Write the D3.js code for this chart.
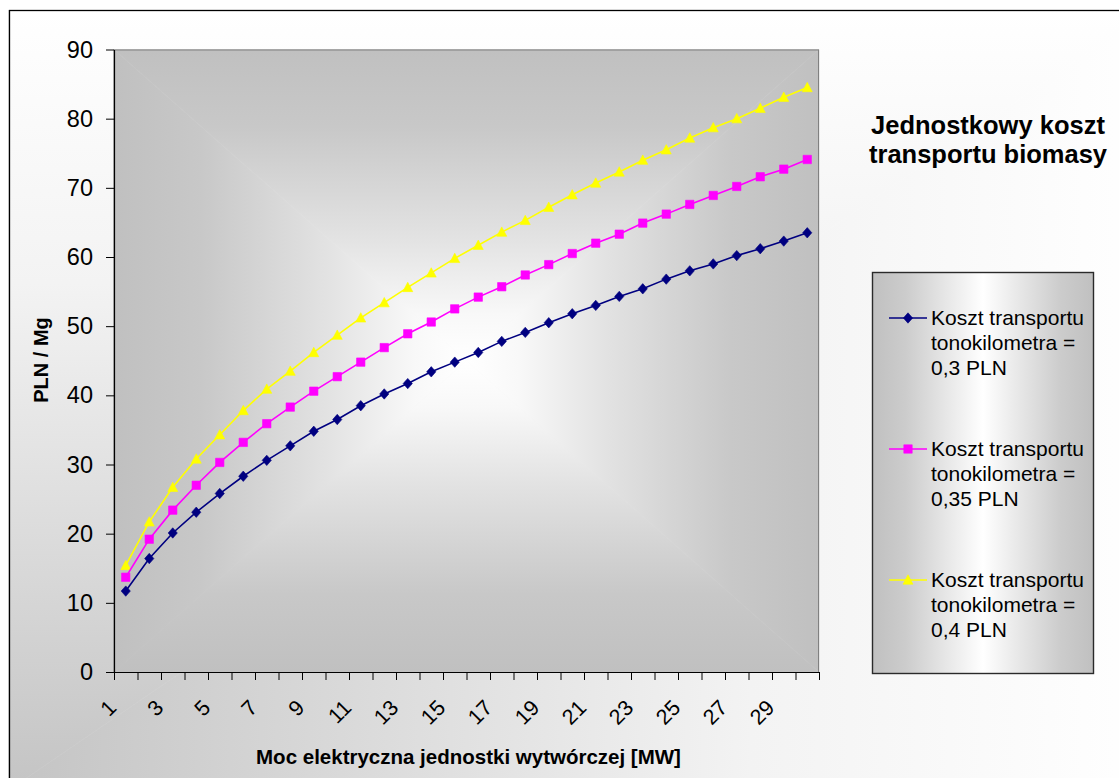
<!DOCTYPE html>
<html>
<head>
<meta charset="utf-8">
<script src="https://cdn.jsdelivr.net/npm/d3@7"></script>
<style>
  html, body { margin: 0; padding: 0; background: #ffffff; }
  svg { display: block; font-family: "Liberation Sans", Arial, sans-serif; }
</style>
</head>
<body>
<svg id="chart" width="1119" height="778"></svg>
<script>
// ---------------- data ----------------
const categories = [1,2,3,4,5,6,7,8,9,10,11,12,13,14,15,16,17,18,19,20,21,22,23,24,25,26,27,28,29,30];
const xTickLabels = ["1","3","5","7","9","11","13","15","17","19","21","23","25","27","29"];
const yTicks = [0,10,20,30,40,50,60,70,80,90];
const cost03 = [11.7,16.4,20.1,23.1,25.8,28.3,30.6,32.7,34.8,36.5,38.5,40.2,41.7,43.4,44.8,46.2,47.8,49.1,50.5,51.8,53.0,54.3,55.4,56.8,58.0,59.0,60.2,61.2,62.3,63.5];
const cost035 = [13.7,19.2,23.4,27.0,30.3,33.2,35.9,38.3,40.6,42.7,44.8,46.9,48.9,50.6,52.5,54.2,55.7,57.4,58.9,60.5,62.0,63.3,64.9,66.2,67.6,68.9,70.2,71.6,72.7,74.1];
const cost04 = [15.4,21.7,26.7,30.8,34.3,37.8,40.9,43.5,46.2,48.7,51.2,53.4,55.6,57.7,59.8,61.7,63.6,65.3,67.2,69.0,70.7,72.3,74.0,75.5,77.2,78.7,80.0,81.5,83.1,84.5];
const seriesNames = [
  ["Koszt transportu", "tonokilometra =", "0,3 PLN"],
  ["Koszt transportu", "tonokilometra =", "0,35 PLN"],
  ["Koszt transportu", "tonokilometra =", "0,4 PLN"]
];
const seriesColors = ["#000080", "#ff00ff", "#ffff00"];
const seriesMarkers = ["diamond", "square", "triangle"];
const chartTitle = ["Jednostkowy koszt", "transportu biomasy"];
const xTitle = "Moc elektryczna jednostki wytwórczej [MW]";
const yTitle = "PLN / Mg";

// ---------------- layout ----------------
const svg = d3.select("#chart");
const defs = svg.append("defs");
const P = { left: 114, right: 819, top: 49.5, bottom: 672 };

function boxGradient(id, x0, y0, x1, y1, cx, cy, stops) {
  const g = svg.append("g");
  const tris = [
    { pts: [[x0,y0],[x1,y0],[cx,cy]], from: [cx,y0] },
    { pts: [[x1,y0],[x1,y1],[cx,cy]], from: [x1,cy] },
    { pts: [[x1,y1],[x0,y1],[cx,cy]], from: [cx,y1] },
    { pts: [[x0,y1],[x0,y0],[cx,cy]], from: [x0,cy] }
  ];
  tris.forEach((t, i) => {
    const gid = id + "_" + i;
    const lg = defs.append("linearGradient").attr("id", gid)
      .attr("gradientUnits", "userSpaceOnUse")
      .attr("x1", t.from[0]).attr("y1", t.from[1]).attr("x2", cx).attr("y2", cy);
    stops.forEach(s => lg.append("stop").attr("offset", s[0]).attr("stop-color", s[1]));
    g.append("path")
      .attr("d", "M" + t.pts.map(p => p.join(",")).join("L") + "Z")
      .attr("fill", "url(#" + gid + ")")
      .attr("stroke", "url(#" + gid + ")")
      .attr("stroke-width", 0.6);
  });
  return g;
}

// chart area background (corner gradient, grey at bottom-left)
boxGradient("ca", 9, 10, 1150, 790, 9, 790,
  [[0, "#ffffff"], [0.35, "#f3f3f3"], [1, "#c4c4c4"]]);
svg.append("rect").attr("x", 9.5).attr("y", 10.5).attr("width", 1200).attr("height", 900)
  .attr("fill", "none").attr("stroke", "#000").attr("stroke-width", 1.3);

// plot area background (from-center box gradient)
const pcx = (P.left + P.right) / 2, pcy = (P.top + P.bottom) / 2;
boxGradient("pa", P.left, P.top, P.right, P.bottom, pcx, pcy,
  [[0, "#c0c0c0"], [0.25, "#c8c8c8"], [0.6, "#e2e2e2"], [0.85, "#f8f8f8"], [1, "#ffffff"]]);
svg.append("rect").attr("x", P.left).attr("y", P.top + 0.5)
  .attr("width", P.right - P.left - 0.5).attr("height", P.bottom - P.top)
  .attr("fill", "none").attr("stroke", "#808080").attr("stroke-width", 1);

// scales
const x = d3.scaleBand().domain(categories).range([P.left, P.right]).padding(0);
const xb = d3.scaleLinear().domain([0, categories.length]).range([P.left, P.right]);
const y = d3.scaleLinear().domain([0, 90]).range([P.bottom, P.top]);
const cx = c => x(c) + x.bandwidth() / 2;

// y axis
const yAxis = svg.append("g").attr("transform", `translate(${P.left},0)`)
  .call(d3.axisLeft(y).tickValues(yTicks).tickSize(8).tickPadding(13).tickSizeOuter(0));
yAxis.select(".domain").attr("stroke", "#000").attr("stroke-width", 1.2);
yAxis.selectAll(".tick line").attr("stroke", "#000");
yAxis.selectAll(".tick text").attr("font-size", 23.5).attr("fill", "#000")
  .attr("font-family", "Liberation Sans, Arial, sans-serif");

// x axis (ticks at category boundaries)
const xAxis = svg.append("g").attr("transform", `translate(0,${P.bottom})`)
  .call(d3.axisBottom(xb).tickValues(d3.range(categories.length + 1)).tickFormat("").tickSize(8).tickSizeOuter(0));
xAxis.select(".domain").attr("stroke", "#000").attr("stroke-width", 1.2);
xAxis.selectAll(".tick line").attr("stroke", "#000");

// x tick labels (rotated)
svg.append("g").selectAll("text").data(xTickLabels).join("text")
  .attr("transform", d => `translate(${cx(+d) - 8},${709}) rotate(-45)`)
  .attr("text-anchor", "end")
  .attr("font-size", 21.5)
  .attr("fill", "#000")
  .text(d => d);

// axis titles
svg.append("text").attr("x", (P.left + P.right) / 2 + 2).attr("y", 764)
  .attr("text-anchor", "middle").attr("font-size", 20.5).attr("font-weight", "bold")
  .text(xTitle);
svg.append("text").attr("transform", "translate(48,360) rotate(-90)")
  .attr("text-anchor", "middle").attr("font-size", 20).attr("font-weight", "bold")
  .text(yTitle);

// markers
function markerPath(type) {
  if (type === "diamond") return "M0,-5.2L4.6,0L0,5.2L-4.6,0Z";
  if (type === "square") return "M-4.2,-4.2H4.2V4.2H-4.2Z";
  return "M0,-5.2L5,4.2L-5,4.2Z";
}

// series
const allSeries = [cost03, cost035, cost04];
const line = d3.line().x((d, i) => cx(categories[i])).y(d => y(d));
const seriesG = svg.append("g");
[2, 1, 0].forEach(si => {
  const vals = allSeries[si];
  seriesG.append("path").datum(vals).attr("d", line)
    .attr("fill", "none").attr("stroke", seriesColors[si]).attr("stroke-width", 1.6);
  seriesG.append("g").selectAll("path").data(vals).join("path")
    .attr("transform", (d, i) => `translate(${cx(categories[i])},${y(d)})`)
    .attr("d", markerPath(seriesMarkers[si]))
    .attr("fill", seriesColors[si]).attr("stroke", seriesColors[si]).attr("stroke-width", 0.6);
});

// title
const tt = svg.append("text").attr("text-anchor", "middle").attr("font-size", 25.5)
  .attr("font-weight", "bold").attr("fill", "#000");
chartTitle.forEach((t, i) => tt.append("tspan").attr("x", 988).attr("y", 134 + i * 29).text(t));

// legend
const L = { x: 872, y: 272, w: 221, h: 401 };
const lgGrad = defs.append("linearGradient").attr("id", "lgGrad")
  .attr("x1", 0).attr("y1", 0).attr("x2", 1).attr("y2", 0);
[[0, "#c0c0c0"], [0.15, "#cccccc"], [0.5, "#ffffff"], [0.85, "#cccccc"], [1, "#c0c0c0"]]
  .forEach(s => lgGrad.append("stop").attr("offset", s[0]).attr("stop-color", s[1]));
svg.append("rect").attr("x", L.x + 0.5).attr("y", L.y + 0.5).attr("width", L.w).attr("height", L.h)
  .attr("fill", "url(#lgGrad)").attr("stroke", "#2a2a2a").attr("stroke-width", 1.4);

const legendTops = [318, 449, 580];
seriesNames.forEach((lines, si) => {
  const ly = legendTops[si];
  svg.append("line").attr("x1", 889).attr("x2", 927).attr("y1", ly).attr("y2", ly)
    .attr("stroke", seriesColors[si]).attr("stroke-width", 1.6);
  svg.append("path").attr("transform", `translate(908,${ly})`)
    .attr("d", markerPath(seriesMarkers[si])).attr("fill", seriesColors[si])
    .attr("stroke", seriesColors[si]).attr("stroke-width", 0.6);
  const t = svg.append("text").attr("font-size", 21).attr("fill", "#000");
  lines.forEach((s, k) => t.append("tspan").attr("x", 931).attr("y", ly + 7 + k * 25).text(s));
});
</script>
</body>
</html>
